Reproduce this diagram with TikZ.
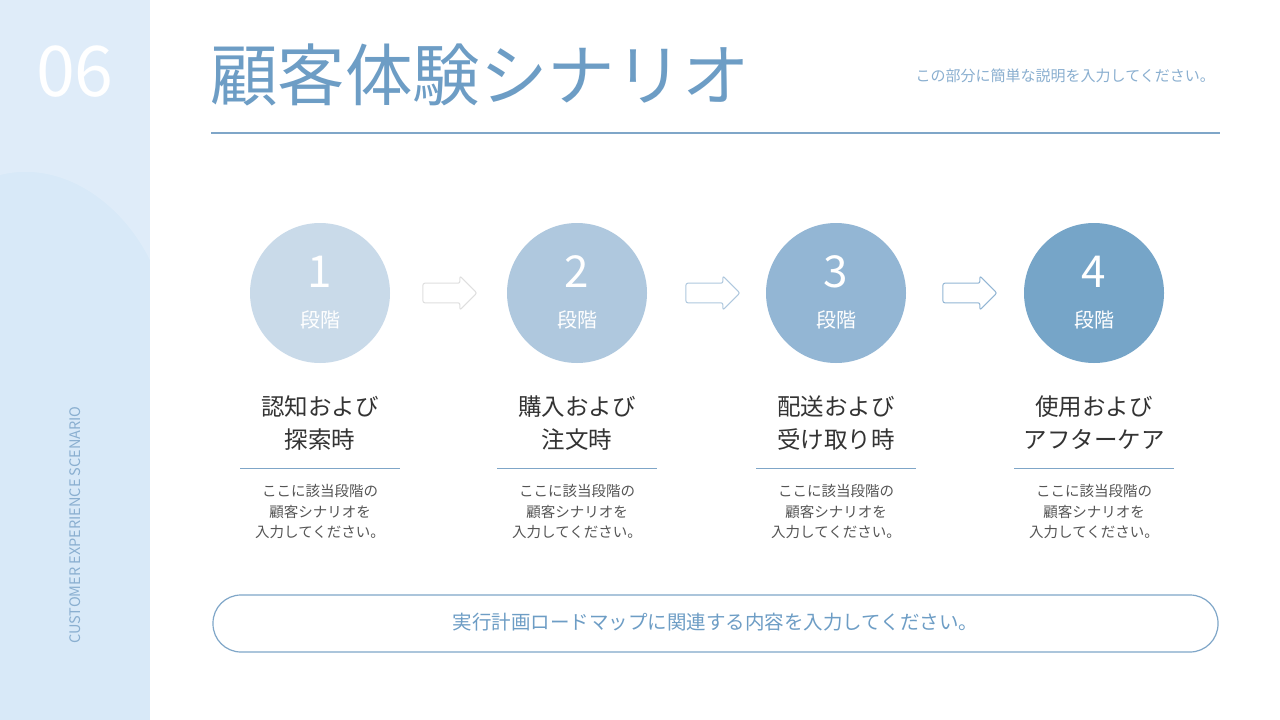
\documentclass[tikz,border=0pt]{standalone}
\usepackage{fontspec}
\setmainfont{Noto Sans CJK JP}
\usetikzlibrary{shapes.arrows}
\definecolor{side}{HTML}{D8E9F8}
\definecolor{ttl}{HTML}{6D9DC5}
\definecolor{sub}{HTML}{8AAFD0}
\definecolor{rule}{HTML}{7FA6C8}
\definecolor{cA}{HTML}{C9DAE9}
\definecolor{cB}{HTML}{AFC8DE}
\definecolor{cC}{HTML}{93B6D4}
\definecolor{cD}{HTML}{76A5C8}
\definecolor{txt}{HTML}{333333}
\definecolor{dsc}{HTML}{555555}
\tikzset{
 stage/.style={circle,minimum size=140pt,inner sep=0pt},
 numtxt/.style={text=white,font=\fontsize{44}{44}\selectfont},
 lvl/.style={text=white,font=\fontsize{20}{20}\selectfont},
 head/.style={text=txt,align=center,font=\fontsize{23.5}{33}\selectfont},
 desc/.style={text=dsc,align=center,font=\fontsize{14.5}{20.5}\selectfont},
 harrow/.style={single arrow,draw=#1,line width=1pt,minimum width=34pt,single arrow head extend=7pt,minimum height=54pt,inner xsep=0pt,inner ysep=9pt,rounded corners=2pt},
}
\begin{document}
\begin{tikzpicture}[x=1pt,y=-1pt]
\useasboundingbox (0,0) rectangle (1280,720);
\fill[white] (0,0) rectangle (1280,720);
\fill[side] (0,0) rectangle (150,720);
\fill[white,opacity=0.18] (0,175) .. controls (60,160) and (120,200) .. (150,260) -- (150,0) -- (0,0) -- cycle;
\node[text=white,font=\fontsize{70}{70}\selectfont] (num) at (75,72) {06};
\node[rotate=90,text=sub,font=\fontsize{14.5}{14.5}\selectfont] (vert) at (75,525) {CUSTOMER EXPERIENCE SCENARIO};
\node[anchor=base west,text=ttl,inner sep=0pt,font=\fontsize{67.5}{67.5}\selectfont] (title) at (210,100) {顧客体験シナリオ};
\node[anchor=base east,text=sub,inner sep=0pt,font=\fontsize{15}{15}\selectfont] (subt) at (1215,81) {この部分に簡単な説明を入力してください。};
\draw[rule,line width=1.2pt] (211,133) -- (1220,133);
\foreach \i/\x/\c/\h in {1/320/cA/{認知および\\探索時},2/577/cB/{購入および\\注文時},3/836/cC/{配送および\\受け取り時},4/1094/cD/{使用および\\アフターケア}}{
 \node[stage,fill=\c] (s\i) at (\x,293) {};
 \node[numtxt] (n\i) at (\x,272) {\i};
 \node[lvl] (l\i) at (\x,320) {段階};
 \node[head] (h\i) at (\x,423) {\h};
 \draw[rule,line width=1pt] (\x-80,468) -- (\x+80,468);
 \node[desc] (d\i) at (\x,512) {ここに該当段階の\\顧客シナリオを\\入力してください。};
}
\node[harrow=gray!25] (a1) at (445,293) {};
\node[harrow=cB] (a2) at (708,293) {};
\node[harrow=cC] (a3) at (965,293) {};
\draw[rule,line width=1.2pt,rounded corners=28pt] (213,595) rectangle (1218,652);
\node[text=ttl,font=\fontsize{19.5}{19.5}\selectfont] (bot) at (715.5,622) {実行計画ロードマップに関連する内容を入力してください。};
\end{tikzpicture}
\end{document}
